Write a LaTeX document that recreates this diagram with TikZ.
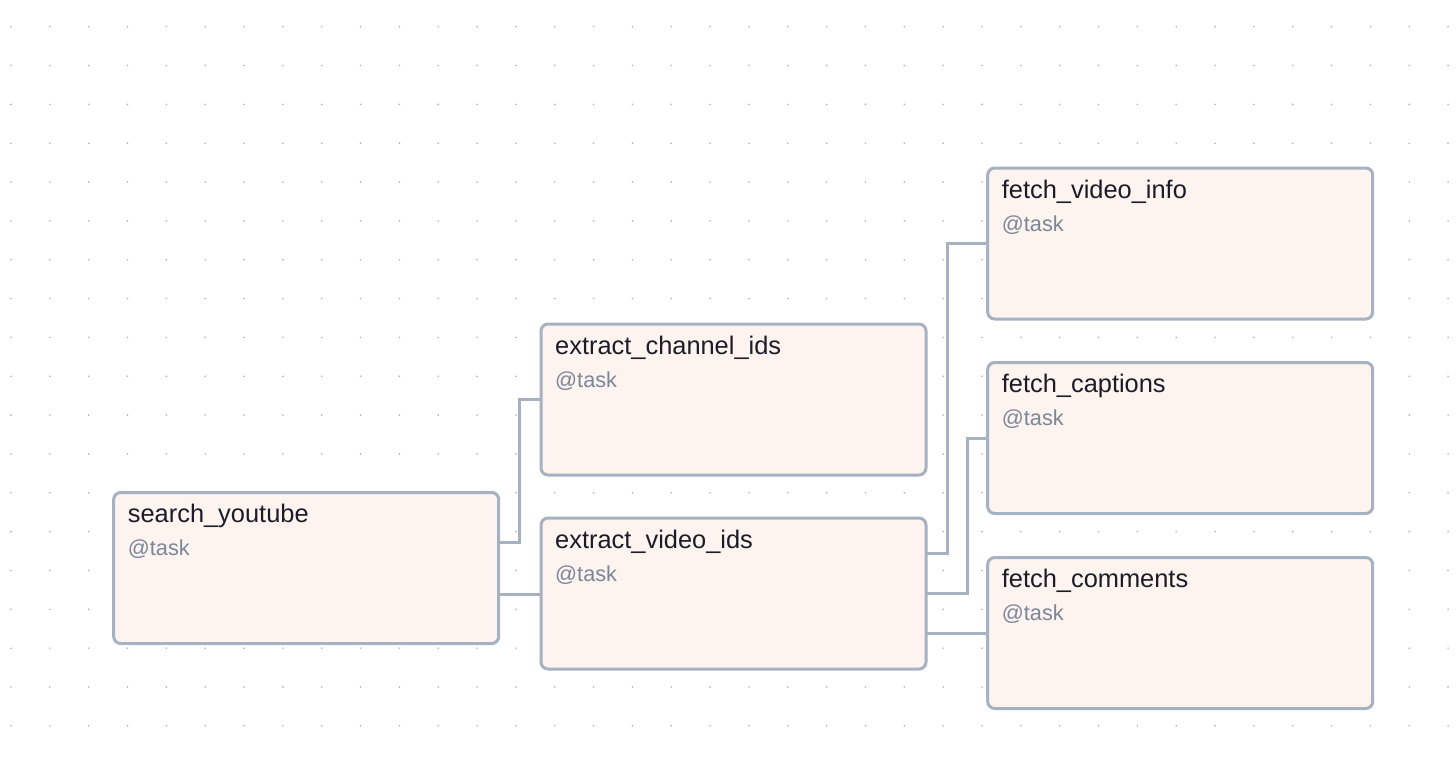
\documentclass[tikz,border=0pt]{standalone}
\usepackage{fontspec}
\setmainfont{Liberation Sans}
\definecolor{edgec}{HTML}{A6B1C1}
\definecolor{fillc}{HTML}{FDF3EF}
\definecolor{titlec}{HTML}{1C1C28}
\definecolor{subc}{HTML}{7B8698}
\definecolor{dotc}{HTML}{B0B0B0}
\tikzset{
  taskbox/.style={draw=edgec, fill=fillc, line width=3pt, rounded corners=7pt,
    minimum width=385pt, minimum height=151pt, anchor=north west, inner sep=0pt,
    outer sep=0pt},
  titletext/.style={anchor=base west, inner sep=0pt, text=titlec,
    font=\fontsize{25.4}{28}\selectfont},
  subtext/.style={anchor=base west, inner sep=0pt, text=subc,
    font=\fontsize{21.7}{24}\selectfont},
  wire/.style={draw=edgec, line width=3pt}
}
\newcommand{\taskat}[4]{%
  \node[taskbox] (#1) at (#2,#3) {};
  \node[titletext] (#1-t) at ([xshift=14pt,yshift=-30pt]#1.north west) {#4};
  \node[subtext] (#1-s) at ([xshift=14pt,yshift=-63pt]#1.north west) {@task};
}
\begin{document}
\begin{tikzpicture}[x=1pt,y=-1pt]
\useasboundingbox[fill=white] (0,0) rectangle (1456,758);
\foreach \i in {0,...,37}{
  \foreach \j in {0,...,19}{
    \fill[dotc] (11+38.84*\i, 26.7+38.84*\j) circle (0.9pt);
  }
}
\taskat{sy}{113.7}{492.5}{search\_youtube}
\taskat{eci}{541}{324}{extract\_channel\_ids}
\taskat{evi}{541}{518}{extract\_video\_ids}
\taskat{fvi}{987.7}{168}{fetch\_video\_info}
\taskat{fca}{987.7}{362.5}{fetch\_captions}
\taskat{fco}{987.7}{557.5}{fetch\_comments}

\coordinate (syA) at ([yshift=26pt]sy.east);
\coordinate (syB) at ([yshift=-26pt]sy.east);
\coordinate (evA) at ([yshift=40pt]evi.east);
\coordinate (evC) at ([yshift=-40pt]evi.east);
\draw[wire] (syA) -- ++(21,0) |- (eci.west);
\draw[wire] (syB) -- (syB -| evi.west);
\draw[wire] (evA) -- ++(21,0) |- (fvi.west);
\draw[wire] (evi.east) -- ++(41,0) |- (fca.west);
\draw[wire] (evC) -- (evC -| fco.west);
\end{tikzpicture}
\end{document}
